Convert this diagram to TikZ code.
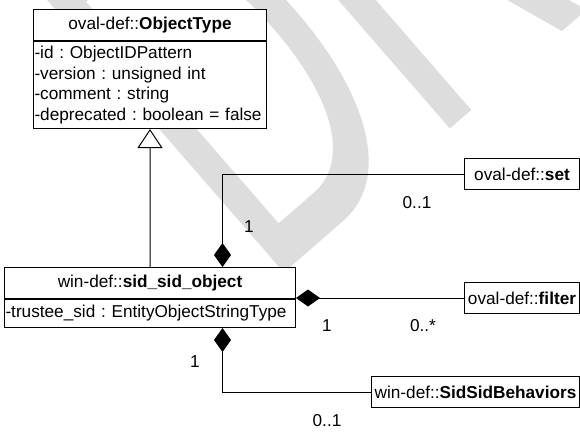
\documentclass[tikz,border=0pt]{standalone}
\usepackage{fontspec}
\setmainfont{Liberation Sans}
\usetikzlibrary{arrows.meta}
\definecolor{wm}{RGB}{221,221,221}
\frenchspacing
\begin{document}
\begin{tikzpicture}[x=1bp, y=-1bp,
  every node/.style={font=\fontsize{17.2bp}{20.8bp}\selectfont},
  box/.style={draw, fill=white, line width=1bp, inner sep=0pt},
  attrbox/.style={box, inner xsep=1bp, align=left, anchor=north west},
  comp/.style={draw, line width=1bp, -{Diamond[length=24bp,width=17bp]}},
  gen/.style={draw, line width=1bp, -{Triangle[open,length=19bp,width=25bp]}},
  mult/.style={inner sep=0pt}]
\useasboundingbox (0,0) rectangle (580,431);
% watermark
\node[rotate=41, xscale=0.56, anchor=base west, text=wm, inner sep=0pt,
      font=\fontsize{545bp}{545bp}\selectfont] (wmk) at (265,290) {DRAFT};
% classes
\node[box, minimum width=233bp, minimum height=31bp, anchor=north west] (oth) at (33,9) {oval-def::\textbf{ObjectType}};
\node[attrbox, text width=231bp, minimum height=87bp] (ota) at (oth.south west)
  {-id : ObjectIDPattern\\-version : unsigned int\\-comment : string\\-deprecated : boolean = false};
\node[box, minimum width=291bp, minimum height=31bp, anchor=north west] (sidh) at (4,267) {win-def::\textbf{sid\_sid\_object}};
\node[attrbox, text width=289bp, minimum height=28bp] (sida) at (sidh.south west)
  {-trustee\_sid : EntityObjectStringType};
\node[box, minimum width=115bp, minimum height=31bp, anchor=north west] (set) at (464,158) {oval-def::\textbf{set}};
\node[box, minimum width=115bp, minimum height=31bp, anchor=north west] (filter) at (464,282) {oval-def::\textbf{filter}};
\node[box, minimum width=208bp, minimum height=31bp, anchor=north west] (ssb) at (371,376) {win-def::\textbf{SidSidBehaviors}};
% connectors
\draw[gen] (sidh.north) -- (ota.south);
\draw[comp] (set.west) -| ([xshift=72.5bp]sidh.north);
\draw[comp] (filter.west) -- (filter.west -| sidh.east);
\draw[comp] (ssb.west) -| ([xshift=72.5bp]sida.south);
% multiplicities
\node[mult] (m1) at (249,227) {1};
\node[mult] (m2) at (417,203) {0..1};
\node[mult] (m3) at (327,326) {1};
\node[mult] (m4) at (423,326) {0..*};
\node[mult] (m5) at (195,362) {1};
\node[mult] (m6) at (327,421) {0..1};
\end{tikzpicture}
\end{document}
